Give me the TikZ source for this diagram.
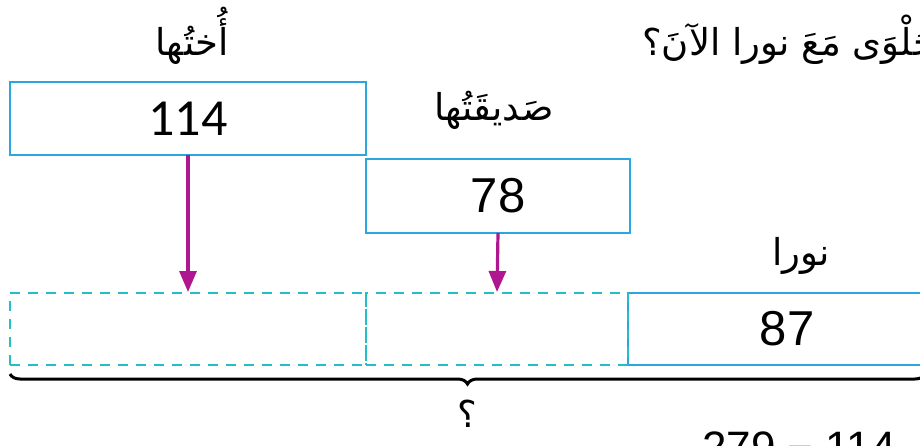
\documentclass[tikz,border=0pt]{standalone}
\usepackage{fontspec}
\setmainfont{Liberation Sans}
\newfontfamily\arabicfont[Script=Arabic]{DejaVu Sans}
\newfontfamily\carlito{Carlito}
\TeXXeTstate=1
\usetikzlibrary{arrows.meta,decorations.pathreplacing}
\definecolor{boxblue}{HTML}{2BA6DE}
\definecolor{dashcyan}{HTML}{22BFC9}
\definecolor{arrmag}{HTML}{AE1790}
\tikzset{
  box/.style={draw=boxblue, line width=2pt, inner sep=0pt, outer sep=0pt, anchor=north west, font=\fontsize{49}{53}\selectfont},
  dbox/.style={draw=dashcyan, line width=2pt, dash pattern=on 10pt off 8pt, inner sep=0pt, outer sep=0pt, anchor=north west},
  arr/.style={draw=arrmag, line width=3.2pt, -{Triangle[length=21pt,width=17pt]}, shorten >=1pt},
  ar/.style={font=\arabicfont\fontsize{37}{42}\selectfont, inner sep=0pt},
  bracestyle/.style={draw=black, line width=3pt, decorate, decoration={brace, amplitude=10pt}},
}
\begin{document}
\begin{tikzpicture}[x=1pt,y=-1pt]
\clip (0,0) rectangle (920,446);
\fill[white] (0,0) rectangle (920,446);
% top sentence (cut by the right edge)
\node[ar, anchor=west] (question) at (642,40) {\beginR الحَلْوَى مَعَ نورا الآنَ؟\endR};
% labels
\node[ar] (lblsister) at (192,36) {\beginR أُختُها\endR};
\node[ar] (lblfriend) at (494,110) {\beginR صَديقَتُها\endR};
\node[ar] (lblnora) at (801,256) {\beginR نورا\endR};
% solid boxes
\node[box, minimum width=356pt, minimum height=73pt, font=\carlito\fontsize{52}{56}\selectfont] (b114) at (10,82) {114};
\node[box, minimum width=264pt, minimum height=74pt] (b78) at (366,159) {78};
\node[box, minimum width=318pt, minimum height=72pt] (b87) at (628,293) {87};
% dashed boxes
\node[dbox, minimum width=356pt, minimum height=72pt] (d1) at (10,293) {};
\node[dbox, minimum width=262pt, minimum height=72pt] (d2) at (366,293) {};
% arrows
\draw[arr] (b114.south) -- (d1.north);
\draw[arr] (b78.south) -- (d2.north);
% brace
\coordinate (bl) at (10,374);
\coordinate (br) at (925,374);
\draw[bracestyle] (br) -- (bl);
\node[ar] (qmark) at (467,414) {\beginR ؟\endR};
% bottom expression (cut by the lower edge)
\node[inner sep=0pt, anchor=north west, font=\fontsize{44}{48}\selectfont] (calc) at (702,432) {279 − 114};
\end{tikzpicture}
\end{document}
